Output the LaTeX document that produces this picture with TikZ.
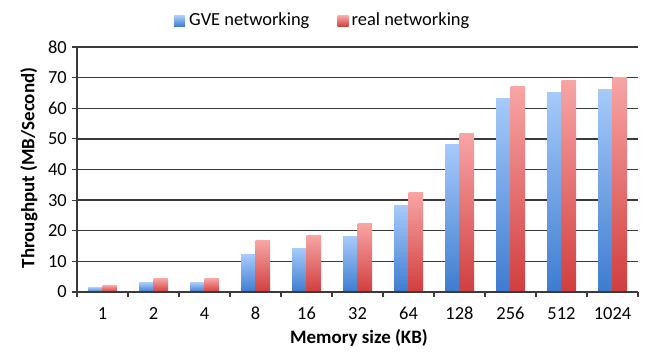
\documentclass[tikz,border=0pt]{standalone}
\usepackage{fontspec}
\setmainfont{Carlito}
\definecolor{gvetop}{HTML}{A6CAFA}
\definecolor{gvebot}{HTML}{3E7CD0}
\definecolor{realtop}{HTML}{F8A5A5}
\definecolor{realbot}{HTML}{D13E3E}
\definecolor{axisgray}{HTML}{3A3A3A}
\tikzset{
  gridline/.style={draw=axisgray, line width=1.3bp},
  axisline/.style={draw=axisgray, line width=1.1bp},
  gvebar/.style={top color=gvetop, bottom color=gvebot, draw=none},
  realbar/.style={top color=realtop, bottom color=realbot, draw=none},
  ticklabel/.style={font=\fontsize{18.5}{18.5}\selectfont, inner sep=0pt},
  axistitle/.style={font=\bfseries\fontsize{19}{19}\selectfont, inner sep=0pt},
  legendtext/.style={font=\fontsize{18.5}{18.5}\selectfont, inner sep=0pt, anchor=base west},
}
\begin{document}
\begin{tikzpicture}[x=1bp, y=1bp]
\useasboundingbox (0,0) rectangle (647,351);
% plot frame: origin (77,59), 3.0625bp per MB/s, 51bp per category
\def\xo{77}\def\yo{59}\def\ys{3.0625}\def\cw{51}
% horizontal grid lines
\foreach \v in {10,20,...,80}
  \draw[gridline] (\xo,{\yo+\v*\ys}) -- (638,{\yo+\v*\ys});
% y tick labels and ticks
\foreach \v in {0,10,...,80} {
  \draw[axisline] (72,{\yo+\v*\ys}) -- (\xo,{\yo+\v*\ys});
  \node[ticklabel, anchor=east] (yl\v) at (67,{\yo+\v*\ys}) {\v};
}
% bars
\foreach \g/\r [count=\i from 0] in {1.5/2.2, 3.1/4.4, 3.1/4.4, 12.1/16.8, 14.2/18.6, 18.1/22.4, 28.1/32.5, 48.1/51.7, 63.1/67.1, 65.1/69.2, 66.1/70.2} {
  \pgfmathsetmacro{\c}{\xo+\cw*(\i+0.5)}
  \shade[gvebar] ({\c-14.5},\yo) rectangle (\c,{\yo+\g*\ys});
  \shade[realbar] (\c,\yo) rectangle ({\c+14.5},{\yo+\r*\ys});
}
% axes
\draw[gridline] (\xo,\yo) -- (638,\yo);
\draw[axisline] (\xo,\yo) -- (\xo,{\yo+80*\ys});
\foreach \i in {0,...,11}
  \draw[axisline] ({\xo+\cw*\i},\yo) -- ({\xo+\cw*\i},{\yo-5});
% x tick labels
\foreach \lab [count=\i from 0] in {1,2,4,8,16,32,64,128,256,512,1024}
  \node[ticklabel, anchor=base] (xl\i) at ({\xo+\cw*(\i+0.5)},31.7) {\lab};
% axis titles
\node[axistitle, anchor=base] (xtitle) at (359,8) {Memory size (KB)};
\node[axistitle, rotate=90] (ytitle) at (29,183) {Throughput (MB/Second)};
% legend
\shade[gvebar] (174,324.5) rectangle (185,335);
\node[legendtext] (lgve) at (189,325.7) {GVE networking};
\shade[realbar] (337.7,324.5) rectangle (348.5,335);
\node[legendtext] (lreal) at (351.5,325.7) {real networking};
\end{tikzpicture}
\end{document}
